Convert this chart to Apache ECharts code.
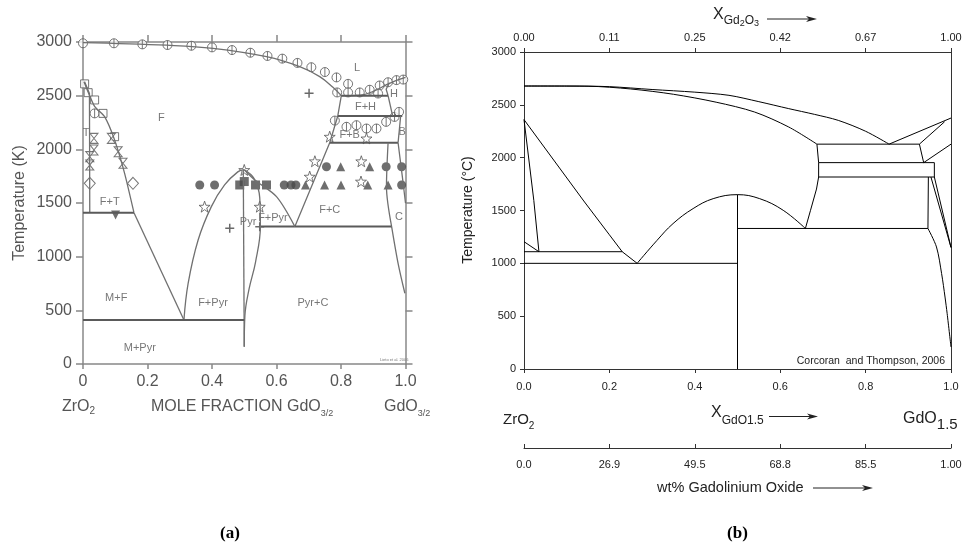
<!DOCTYPE html>
<html>
<head>
<meta charset="utf-8">
<script src="https://cdn.jsdelivr.net/npm/echarts/dist/echarts.min.js"></script>
<style>
html,body{margin:0;padding:0;background:#fff}
#chart{width:974px;height:546px}
</style>
</head>
<body>
<div id="chart"></div>
<script>
// ---- (a) ZrO2 - GdO3/2, Lieto et al. ----
var aXLabels = ['0', '0.2', '0.4', '0.6', '0.8', '1.0'];
var aLiquidus = [[0,2995],[0.26,2970],[0.403,2941],[0.569,2863],[0.672,2770],[0.734,2677],[0.775,2578],[0.801,2500]];
var aLiquidusR = [[0.801,2500],[0.86,2505],[0.9,2540],[0.94,2600],[0.97,2640],[1.0,2670]];
var aHLeft = [[0.946,2500],[0.94,2560],[0.95,2620]];
var aFLeft = [[0.801,2500],[0.79,2311],[0.765,2061],[0.657,1280]];
var aFH = [[0.801,2500],[0.946,2500]];
var aFBtop = [[0.79,2311],[0.99,2311]];
var aFBbottom = [[0.765,2061],[0.977,2061]];
var aHB = [[0.946,2500],[0.96,2311]];
var aBRight = [[0.985,2311],[0.977,2061]];
var aFCRight = [[0.946,2061],[0.941,1652],[0.957,1280]];
var aCRight = [[0.957,1280],[0.977,938],[0.998,659]];
var aBC = [[0.977,2061],[0.99,1750],[1.0,1500]];
var aFC = [[0.548,1280],[0.957,1280]];
var aFPyr = [[0.5,1810],[0.533,1714],[0.6,1559],[0.657,1280]];
var aPyrRight = [[0.5,1810],[0.53,1730],[0.548,1550],[0.55,1280],[0.535,950],[0.515,700],[0.502,450],[0.5,160]];
var aPyrLeft = [[0.497,1810],[0.5,160]];
var aPyrCurve = [[0.313,410],[0.326,751],[0.357,1155],[0.398,1466],[0.439,1668],[0.48,1790],[0.5,1810]];
var aFTRight = [[0.003,2630],[0.036,2400],[0.067,2304],[0.098,2087],[0.129,1776],[0.158,1410]];
var aMF = [[0.158,1410],[0.313,410]];
var aTLeft = [[0.005,2630],[0.02,2520],[0.021,1410]];
var aFT = [[0,1410],[0.158,1410]];
var aMPyr = [[0,410],[0.5,410]];

var aLiqCircles = [[0,2988],[0.096,2988],[0.184,2978],[0.262,2972],[0.336,2965],[0.4,2950],[0.462,2925],
  [0.519,2900],[0.572,2870],[0.618,2845],[0.665,2805],[0.708,2765],[0.75,2720],[0.786,2670],[0.822,2610],
  [0.788,2530],[0.822,2530],[0.858,2530],[0.889,2555],[0.92,2595],[0.946,2625],[0.972,2645],[0.993,2650],
  [0.915,2520],[0.781,2268],[0.817,2210],[0.848,2225],[0.879,2194],[0.91,2194],[0.94,2256],[0.966,2302],
  [0.98,2349],[0.036,2335]];
var aOpenSquares = [[0.005,2610],[0.016,2528],[0.036,2460],[0.062,2335],[0.098,2118]];
var aHourglass = [[0.034,2102],[0.034,1994],[0.021,1932],[0.021,1854],[0.088,2102],[0.109,1978],[0.124,1870]];
var aDiamonds = [[0.021,1683],[0.155,1683]];
var aDownTri = [[0.101,1388]];
var aFilledCircles = [[0.362,1668],[0.408,1668],[0.624,1668],[0.645,1668],[0.66,1668],[0.755,1838],[0.94,1838],[0.988,1838],[0.988,1668]];
var aFilledSquares = [[0.486,1668],[0.535,1668],[0.569,1668],[0.5,1700]];
var aFilledTri = [[0.69,1668],[0.749,1668],[0.8,1668],[0.883,1668],[0.946,1668],[0.799,1838],[0.889,1838]];
var aOpenStars = [[0.377,1466],[0.548,1466],[0.5,1808],[0.703,1746],[0.719,1889],[0.863,1889],[0.765,2118],[0.879,2102],[0.862,1700]];
var aPlus = [[0.455,1264],[0.701,2522],[0.548,1279]];
var aRegionText = [[0.243,2289,'F'],[0.01,2149,'T'],[0.083,1512,'F+T'],[0.103,612,'M+F'],[0.403,565,'F+Pyr'],
  [0.176,146,'M+Pyr'],[0.512,1326,'Pyr'],[0.589,1357,'F+Pyr'],[0.765,1435,'F+C'],[0.98,1372,'C'],
  [0.713,565,'Pyr+C'],[0.85,2755,'L'],[0.964,2512,'H'],[0.876,2398,'F+H'],[0.827,2134,'F+B'],[0.99,2165,'B']];

// ---- (b) Corcoran and Thompson, 2006 ----
var bXLabels = ['0.0', '0.2', '0.4', '0.6', '0.8', '1.0'];
var bTopLabels = ['0.00', '0.11', '0.25', '0.42', '0.67', '1.00'];
var wtLabels = ['0.0', '26.9', '49.5', '68.8', '85.5', '1.00'];
var bLiquidus = [[0,2678],[0.1,2678],[0.2,2672],[0.3,2645],[0.4,2620],[0.48,2590],[0.55,2530],[0.62,2464],[0.68,2410],[0.736,2353],[0.8,2250],[0.855,2128]];
var bSolidus = [[0,2678],[0.15,2676],[0.25,2650],[0.35,2600],[0.45,2525],[0.54,2432],[0.62,2290],[0.686,2128]];
var bBandTop = [[0.686,2128],[0.926,2128]];
var bBandMid = [[0.69,1953],[0.961,1953]];
var bBandLow = [[0.69,1817],[0.961,1817]];
var bBandLeft = [[0.686,2128],[0.69,1953],[0.69,1817],[0.685,1703],[0.671,1502],[0.659,1330]];
var bBandRight1 = [[0.926,2128],[0.936,1953]];
var bBandRight2 = [[0.961,1953],[0.961,1817]];
var bRightUp1 = [[0.855,2128],[1.0,2375]];
var bRightUp2 = [[0.926,2128],[0.985,2340]];
var bRightUp3 = [[0.936,1953],[1.0,2128]];
var bRightVert = [[0.947,1817],[0.946,1330]];
var bRightDiag1 = [[0.953,1817],[1.0,1150]];
var bRightDiag2 = [[0.961,1817],[1.0,1150]];
var bRightCurve = [[0.946,1330],[0.966,1155],[0.978,903],[0.986,681],[0.991,524],[1.0,208]];
var bPeak = [[0.265,1000],[0.311,1215],[0.349,1376],[0.396,1518],[0.443,1612],[0.5,1650],[0.552,1612],[0.607,1502],[0.659,1330]];
var bH1330 = [[0.5,1330],[0.946,1330]];
var bV05 = [[0.5,1650],[0.5,0]];
var bH1000 = [[0,1000],[0.5,1000]];
var bH1110 = [[0,1110],[0.23,1110]];
var bDiag = [[0,2360],[0.14,1590],[0.2,1270],[0.23,1110],[0.265,1000]];
var bSteep = [[0,2360],[0.023,1595],[0.035,1110]];
var bSmall = [[0,1205],[0.035,1110]];

var FONT = 'Liberation Sans';
var GRAY = '#555';

function lineA(data, opt) {
    opt = opt || {};
    return {type: 'line', xAxisIndex: 0, yAxisIndex: 0, data: data, symbol: 'none', silent: true,
        smooth: opt.smooth || false,
        lineStyle: {color: opt.color || '#707070', width: opt.width || 1.3}};
}
function lineB(data, smooth) {
    return {type: 'line', xAxisIndex: 2, yAxisIndex: 2, data: data, symbol: 'none', silent: true,
        smooth: smooth || false, lineStyle: {color: '#000', width: 1}};
}
function marks(data, symbol, size, filled, rotate) {
    return {type: 'scatter', xAxisIndex: 0, yAxisIndex: 0, data: data, symbol: symbol,
        symbolSize: size, symbolRotate: rotate || 0, silent: true,
        itemStyle: filled ? {color: '#4a4a4a'} : {color: '#fff', borderColor: '#555', borderWidth: 1}};
}

var CIRC_BAR = 'path://M0,-10A10,10,0,1,1,0,10A10,10,0,1,1,0,-10ZM0,-10L0,10';
var STAR = 'path://M0,-10L2.35,-3.24L9.51,-3.09L3.8,1.24L5.88,8.09L0,4L-5.88,8.09L-3.8,1.24L-9.51,-3.09L-2.35,-3.24Z';
var HOURGLASS = 'path://M-6,-8L6,-8L-6,8L6,8Z';
var PLUS = 'path://M0,-8L0,8M-8,0L8,0';

function fromLabels(list) {
    return function (v) { return list[Math.round(v * 5)]; };
}
function plain(v) { return String(v); }

var xAxes = [
    {gridIndex: 0, type: 'value', position: 'bottom', min: 0, max: 1, interval: 0.2,
        axisLine: {onZero: false, lineStyle: {color: '#888', width: 1.5}},
        axisTick: {length: 5, lineStyle: {color: '#888', width: 1.5}},
        axisLabel: {color: GRAY, fontSize: 16, fontFamily: FONT, margin: 10, formatter: fromLabels(aXLabels)},
        splitLine: {show: false}},
    {gridIndex: 0, type: 'value', position: 'top', min: 0, max: 1, interval: 0.2,
        axisLine: {onZero: false, lineStyle: {color: '#888', width: 1.5}},
        axisTick: {length: 7, lineStyle: {color: '#888', width: 1.5}},
        axisLabel: {show: false}, splitLine: {show: false}},
    {gridIndex: 1, type: 'value', position: 'bottom', min: 0, max: 1, interval: 0.2,
        axisLine: {onZero: false, lineStyle: {color: '#333'}},
        axisTick: {length: 4, lineStyle: {color: '#333'}},
        axisLabel: {color: '#222', fontSize: 11, fontFamily: FONT, margin: 12, formatter: fromLabels(bXLabels)},
        splitLine: {show: false}},
    {gridIndex: 1, type: 'value', position: 'top', min: 0, max: 1, interval: 0.2,
        axisLine: {onZero: false, lineStyle: {color: '#333'}},
        axisTick: {length: 4, lineStyle: {color: '#333'}},
        axisLabel: {color: '#222', fontSize: 11, fontFamily: FONT, margin: 9, formatter: fromLabels(bTopLabels)},
        splitLine: {show: false}},
    {gridIndex: 2, type: 'value', position: 'bottom', min: 0, max: 1, interval: 0.2,
        axisLine: {onZero: false, lineStyle: {color: '#333'}},
        axisTick: {inside: true, length: 4, lineStyle: {color: '#333'}},
        axisLabel: {color: '#222', fontSize: 11, fontFamily: FONT, margin: 11, formatter: fromLabels(wtLabels)},
        splitLine: {show: false}}
];

var yAxes = [
    {gridIndex: 0, type: 'value', position: 'left', min: 0, max: 3000, interval: 500,
        axisLine: {show: true, onZero: false, lineStyle: {color: '#888', width: 1.5}},
        axisTick: {show: true, length: 7, lineStyle: {color: '#888', width: 1.5}},
        axisLabel: {color: GRAY, fontSize: 16, fontFamily: FONT, margin: 11, formatter: plain},
        splitLine: {show: false}},
    {gridIndex: 0, type: 'value', position: 'right', min: 0, max: 3000, interval: 500,
        axisLine: {show: true, onZero: false, lineStyle: {color: '#888', width: 1.5}},
        axisTick: {show: true, length: 7, lineStyle: {color: '#888', width: 1.5}},
        axisLabel: {show: false}, splitLine: {show: false}},
    {gridIndex: 1, type: 'value', position: 'left', min: 0, max: 3000, interval: 500,
        axisLine: {show: true, onZero: false, lineStyle: {color: '#333'}},
        axisTick: {show: true, length: 4, lineStyle: {color: '#333'}},
        axisLabel: {color: '#222', fontSize: 11, fontFamily: FONT, margin: 8, formatter: plain},
        splitLine: {show: false}},
    {gridIndex: 1, type: 'value', position: 'right', min: 0, max: 3000, interval: 500,
        axisLine: {show: true, onZero: false, lineStyle: {color: '#333'}},
        axisTick: {show: false}, axisLabel: {show: false}, splitLine: {show: false}},
    {gridIndex: 2, type: 'value', min: 0, max: 1, show: false}
];

var series = [
    lineA(aLiquidus, {smooth: 0.4}), lineA(aLiquidusR, {smooth: 0.4}), lineA(aHLeft), lineA(aFLeft),
    lineA(aFH, {width: 2, color: '#5a5a5a'}), lineA(aFBtop, {width: 2, color: '#5a5a5a'}),
    lineA(aFBbottom, {width: 2, color: '#5a5a5a'}), lineA(aHB), lineA(aBRight), lineA(aFCRight, {smooth: 0.3}),
    lineA(aCRight, {smooth: 0.3}), lineA(aBC, {smooth: 0.3}), lineA(aFC, {width: 2, color: '#5a5a5a'}),
    lineA(aFPyr, {smooth: 0.3}), lineA(aPyrRight, {smooth: 0.4}), lineA(aPyrLeft), lineA(aPyrCurve, {smooth: 0.4}),
    lineA(aFTRight, {smooth: 0.2}), lineA(aMF), lineA(aTLeft), lineA(aFT, {width: 2, color: '#5a5a5a'}),
    lineA(aMPyr, {width: 2, color: '#5a5a5a'}),

    marks(aLiqCircles, CIRC_BAR, 9, false),
    marks(aOpenSquares, 'rect', 8, false),
    marks(aHourglass, HOURGLASS, [8, 10], false),
    marks(aDiamonds, 'diamond', [11, 12], false),
    marks(aDownTri, 'triangle', 9, true, 180),
    marks(aFilledCircles, 'circle', 9, true),
    marks(aFilledSquares, 'rect', 9, true),
    marks(aFilledTri, 'triangle', 9, true),
    marks(aOpenStars, STAR, 11, false),
    {type: 'scatter', xAxisIndex: 0, yAxisIndex: 0, data: aPlus, symbol: PLUS, symbolSize: 9, silent: true,
        itemStyle: {color: 'rgba(0,0,0,0)', borderColor: '#444', borderWidth: 1.5}},
    {type: 'scatter', xAxisIndex: 0, yAxisIndex: 0, data: aRegionText, symbolSize: 1, silent: true,
        itemStyle: {color: 'rgba(0,0,0,0)'},
        label: {show: true, position: 'inside', color: GRAY, fontSize: 11, fontFamily: FONT,
            formatter: function (p) { return p.data[2]; }}},

    lineB(bLiquidus, 0.3), lineB(bSolidus, 0.3), lineB(bBandTop), lineB(bBandMid), lineB(bBandLow),
    lineB(bBandLeft), lineB(bBandRight1), lineB(bBandRight2), lineB(bRightUp1), lineB(bRightUp2),
    lineB(bRightUp3), lineB(bRightVert), lineB(bRightDiag1), lineB(bRightDiag2), lineB(bRightCurve, 0.3),
    lineB(bPeak, 0.4), lineB(bH1330), lineB(bV05), lineB(bH1000), lineB(bH1110), lineB(bDiag),
    lineB(bSteep), lineB(bSmall)
];

function arrow(x1, x2, y, color) {
    return {type: 'group', silent: true, children: [
        {type: 'line', shape: {x1: x1, y1: y, x2: x2 - 4, y2: y}, style: {stroke: color, lineWidth: 1}},
        {type: 'polygon', shape: {points: [[x2, y], [x2 - 11, y - 3], [x2 - 8, y], [x2 - 11, y + 3]]}, style: {fill: color}}
    ]};
}
function txt(x, y, text, style) {
    var s = Object.assign({text: text, fontFamily: FONT}, style);
    return {type: 'text', x: x, y: y, silent: true, style: s};
}

// text with subscripts: parts = [[text, fontSize, dy], ...], laid out left to right
var measureCtx = document.createElement('canvas').getContext('2d');
function subRow(x, y, parts, color) {
    var out = [];
    var cx = x;
    parts.forEach(function (p) {
        measureCtx.font = p[1] + 'px "' + FONT + '"';
        out.push({type: 'text', x: cx, y: y + p[2], silent: true,
            style: {text: p[0], fontSize: p[1], fontFamily: FONT, fill: color, verticalAlign: 'middle'}});
        cx += measureCtx.measureText(p[0]).width;
    });
    return out;
}

var graphics = [
    // (a)
    {type: 'text', x: 20, y: 203, rotation: Math.PI / 2, silent: true,
        style: {text: 'Temperature (K)', fontFamily: FONT, fontSize: 16, fill: GRAY, align: 'center', verticalAlign: 'middle'}},
    txt(380, 360, 'Lieto et al. 2006', {fill: '#777', fontSize: 4, verticalAlign: 'middle'}),
    txt(230, 534, '(a)', {fill: '#000', fontSize: 17, fontWeight: 'bold', fontFamily: 'Liberation Serif', align: 'center', verticalAlign: 'middle'}),

    // (b)
    {type: 'text', x: 468, y: 210, rotation: Math.PI / 2, silent: true,
        style: {text: 'Temperature (°C)', fontFamily: FONT, fontSize: 14, fill: '#222', align: 'center', verticalAlign: 'middle'}},
    arrow(767, 817, 19, '#222'),
    txt(945, 361.5, 'Corcoran  and Thompson, 2006', {fill: '#222', fontSize: 10.5, align: 'right', verticalAlign: 'middle'}),
    arrow(769, 818, 416.5, '#222'),
    txt(657, 488, 'wt% Gadolinium Oxide', {fill: '#222', fontSize: 14.5, verticalAlign: 'middle'}),
    arrow(813, 873, 488, '#222'),
    txt(737.5, 534, '(b)', {fill: '#000', fontSize: 17, fontWeight: 'bold', fontFamily: 'Liberation Serif', align: 'center', verticalAlign: 'middle'})
].concat(
    subRow(62, 406.7, [['ZrO', 16, 0], ['2', 10, 5]], GRAY),
    subRow(151, 406.7, [['MOLE FRACTION GdO', 16, 0], ['3/2', 9, 6.5]], GRAY),
    subRow(384, 406.7, [['GdO', 16, 0], ['3/2', 9, 6.5]], GRAY),
    subRow(713, 15, [['X', 16, 0], ['Gd', 12, 6], ['2', 9, 9], ['O', 12, 6], ['3', 9, 9]], '#222'),
    subRow(503, 420, [['ZrO', 15, 0], ['2', 10, 6.5]], '#222'),
    subRow(711, 412.5, [['X', 16, 0], ['GdO1.5', 12, 8.5]], '#222'),
    subRow(903, 419, [['GdO', 16, 0], ['1.5', 15, 6]], '#222')
);

var myChart = echarts.init(document.getElementById('chart'), null, {renderer: 'canvas'});
var option = {
    animation: false,
    backgroundColor: '#fff',
    grid: [
        {left: 83, top: 42, width: 322.5, height: 322},
        {left: 524, top: 52, width: 427, height: 317},
        {left: 524, top: 400, width: 427, height: 48}
    ],
    xAxis: xAxes,
    yAxis: yAxes,
    series: series,
    graphic: graphics
};
myChart.setOption(option);
window.addEventListener('resize', myChart.resize);
</script>
</body>
</html>
